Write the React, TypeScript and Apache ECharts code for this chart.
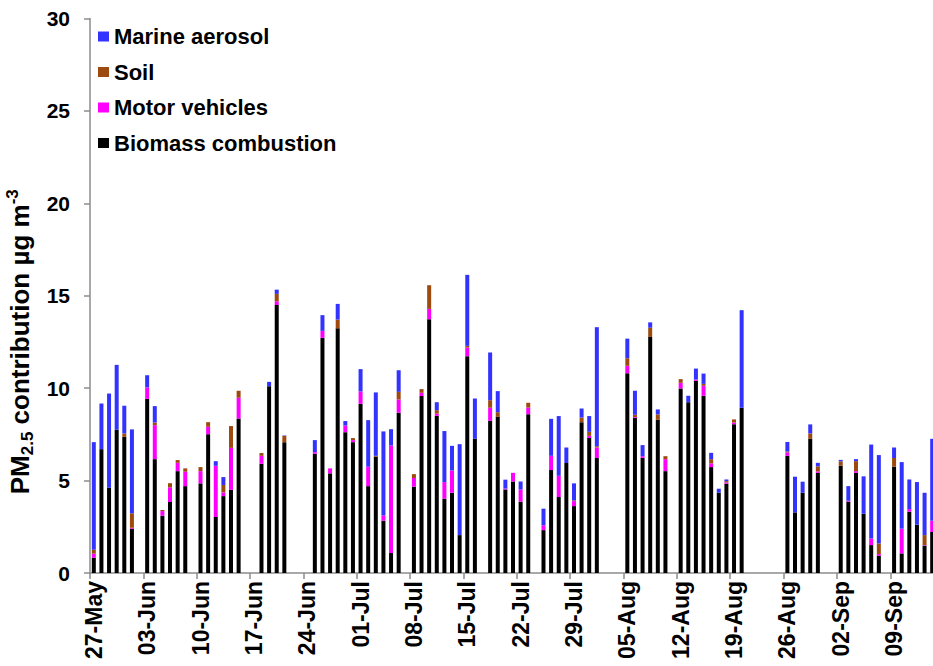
import React, { useEffect, useRef } from "react";
import * as echarts from "echarts";

// Day-by-day categories, 27-May to 14-Sep
const monthSpans: [string, number, number][] = [
  ["May", 27, 31],
  ["Jun", 1, 30],
  ["Jul", 1, 31],
  ["Aug", 1, 31],
  ["Sep", 1, 14],
];
const categories: string[] = [];
for (const [m, a, b] of monthSpans) {
  for (let d = a; d <= b; d++) categories.push(`${String(d).padStart(2, "0")}-${m}`);
}

const yTicks = [0, 5, 10, 15, 20, 25, 30];

const N = null;
// i = 0..110
const biomass = [
  0.83, 6.70, 4.61, 7.75, 7.37, 2.40, N, 9.42, 6.16, 3.10,
  3.84, 5.51, 4.70, N, 4.85, 7.51, 3.03, 4.16, 4.50, 8.36,
  N, N, 5.91, 10.11, 14.50, 7.08, N, N, N, 6.45,
  12.72, 5.39, 13.24, 7.62, 7.08, 9.15, 4.70, 6.29, 2.83, 1.08,
  8.67, N, 4.67, 9.57, 13.73, 8.50, 4.02, 4.34, 2.05, 11.73,
  7.26, N, 8.23, 8.45, 4.52, 4.95, 3.86, 8.59, N, 2.32,
  5.57, 4.11, 5.95, 3.62, 8.16, 7.30, 6.22, N, N, N,
  10.81, 8.38, 6.23, 12.77, 8.29, 5.51, N, 9.98, 9.24, 10.40,
  9.59, 5.73, 4.34, 4.83, 8.05, 8.94, N, N, N, N,
  N, 6.34, 3.28, 4.34, 7.26, 5.42, N, N, 5.80, 3.86,
  5.42, 3.21, 1.51, 0.94, N, 5.75, 1.06, 3.32, 2.61, 1.48,
  2.22,
];
const motor = [
  0.22, 0, 0, 0, 0, 0.05, N, 0.62, 1.84, 0.25,
  0.79, 0.45, 0.78, N, 0.66, 0.40, 2.77, 0.20, 2.27, 1.12,
  N, N, 0.43, 0, 0.20, 0, N, N, N, 0.09,
  0.38, 0.27, 0, 0.36, 0.11, 0.67, 1.05, 0, 0.29, 5.82,
  0.72, N, 0.47, 0.18, 0.56, 0.13, 0.90, 1.21, 0, 0.47,
  0, N, 0.71, 0, 0.05, 0.47, 0.66, 0.36, N, 0.26,
  0.77, 1.15, 0, 0.27, 0, 0.12, 0.57, N, N, N,
  0.40, 0.05, 0.09, 0, 0, 0.65, N, 0.31, 0, 0.07,
  0.54, 0.20, 0, 0.07, 0.09, 0, N, N, N, N,
  N, 0.18, 0, 0, 0, 0.08, N, N, 0, 0.05,
  0.09, 0, 0.36, 0.09, N, 0, 1.34, 0.14, 0, 0.03,
  0.61,
];
const soil = [
  0.21, 0, 0, 0, 0.18, 0.78, N, 0, 0.14, 0.06,
  0.23, 0.15, 0.18, N, 0.22, 0.25, 0, 0.40, 1.18, 0.38,
  N, N, 0.15, 0, 0.40, 0.33, N, N, N, 0,
  0, 0, 0.47, 0, 0.11, 0, 0, 0.05, 0, 0,
  0.41, N, 0.21, 0.20, 1.28, 0.18, 0, 0, 0, 0.09,
  0, N, 0.41, 0.25, 0, 0, 0, 0.26, N, 0,
  0, 0, 0, 0.04, 0.25, 0.22, 0.07, N, N, N,
  0.41, 0.13, 0, 0.50, 0.29, 0.16, N, 0.20, 0, 0,
  0.10, 0.23, 0, 0.07, 0.17, 0, N, N, N, N,
  N, 0.05, 0, 0, 0.29, 0.27, N, N, 0.24, 0,
  0.54, 0, 0, 0.57, N, 0.47, 0, 0, 0, 0.54,
  0,
];
const marine = [
  5.82, 2.47, 5.10, 3.51, 1.50, 4.54, N, 0.66, 0.89, 0,
  0, 0, 0, N, 0, 0, 0.25, 0.43, 0, 0,
  N, N, 0, 0.23, 0.23, 0.03, N, N, N, 0.65,
  0.85, 0, 0.85, 0.24, 0, 1.21, 2.52, 3.43, 4.54, 0.88,
  1.17, N, 0, 0, 0, 0.43, 2.76, 1.33, 4.92, 3.84,
  2.18, N, 2.58, 1.14, 0.48, 0, 0.43, 0, N, 0.90,
  2.00, 3.23, 0.84, 0.92, 0.49, 0.85, 6.44, N, N, N,
  1.06, 1.30, 0.60, 0.29, 0.27, 0, N, 0, 0.35, 0.59,
  0.56, 0.34, 0.22, 0.09, 0, 5.28, N, N, N, N,
  N, 0.52, 1.93, 0.60, 0.49, 0.19, N, N, 0.08, 0.79,
  0.11, 2.02, 5.08, 4.78, N, 0.57, 3.60, 1.60, 2.31, 2.29,
  4.43,
];

const seriesNames = ["Biomass combustion", "Motor vehicles", "Soil", "Marine aerosol"];
const seriesColors = ["#000000", "#FF00FF", "#9C4A0E", "#3333FF"];
const seriesData = [biomass, motor, soil, marine];

const FONT = "'Liberation Sans', Arial, sans-serif";

export default function App() {
  const ref = useRef<HTMLDivElement>(null);
  useEffect(() => {
    if (!ref.current) return;
    const chart = echarts.init(ref.current, null, { renderer: "svg" });
    chart.setOption({
      animation: false,
      backgroundColor: "#ffffff",
      textStyle: { fontFamily: FONT },
      grid: { left: 90, right: -3, top: 18.5, bottom: 93, containLabel: false, outerBoundsMode: "none" },
      legend: {
        orient: "vertical",
        left: 93,
        top: 20.5,
        itemWidth: 11,
        itemHeight: 10,
        itemGap: 13.5,
        icon: "rect",
        data: ["Marine aerosol", "Soil", "Motor vehicles", "Biomass combustion"],
        textStyle: { fontFamily: FONT, fontWeight: "bold", fontSize: 22, color: "#000", lineHeight: 22 },
      },
      xAxis: {
        type: "category",
        data: categories,
        boundaryGap: true,
        axisLine: { show: true, lineStyle: { color: "#8c8c8c", width: 1.5 } },
        axisTick: { show: true, interval: 6, length: 6, lineStyle: { color: "#8c8c8c", width: 1.5 } },
        axisLabel: {
          interval: 6,
          rotate: 90,
          margin: 8,
          fontFamily: FONT,
          fontWeight: "bold",
          fontSize: 23,
          color: "#000",
        },
      },
      yAxis: {
        type: "value",
        min: yTicks[0],
        max: yTicks[yTicks.length - 1],
        interval: 5,
        splitLine: { show: false },
        axisLine: { show: true, lineStyle: { color: "#8c8c8c", width: 1.5 } },
        axisTick: { show: true, inside: false, length: 6, lineStyle: { color: "#8c8c8c", width: 1.5 } },
        axisLabel: { margin: 20, fontFamily: FONT, fontWeight: "bold", fontSize: 21, color: "#000" },
        name: "PM{sub|2.5} contribution µg m{sup|-3}",
        nameLocation: "middle",
        nameRotate: 90,
        nameGap: 53,
        nameTextStyle: {
          fontFamily: FONT,
          fontWeight: "bold",
          fontSize: 26,
          color: "#000",
          lineHeight: 32,
          padding: [0, 92, 0, 0],
          rich: {
            sub: { fontFamily: FONT, fontWeight: "bold", fontSize: 17, lineHeight: 17, verticalAlign: "bottom", color: "#000" },
            sup: { fontFamily: FONT, fontWeight: "bold", fontSize: 17, lineHeight: 17, verticalAlign: "top", color: "#000" },
          },
        },
      },
      series: seriesNames.map((name, k) => ({
        name,
        type: "bar",
        stack: "total",
        barWidth: 4,
        itemStyle: { color: seriesColors[k] },
        data: seriesData[k],
      })),
    });
    return () => chart.dispose();
  }, []);
  return <div ref={ref} style={{ position: "fixed", left: 0, top: 0, width: 933, height: 666 }} />;
}
